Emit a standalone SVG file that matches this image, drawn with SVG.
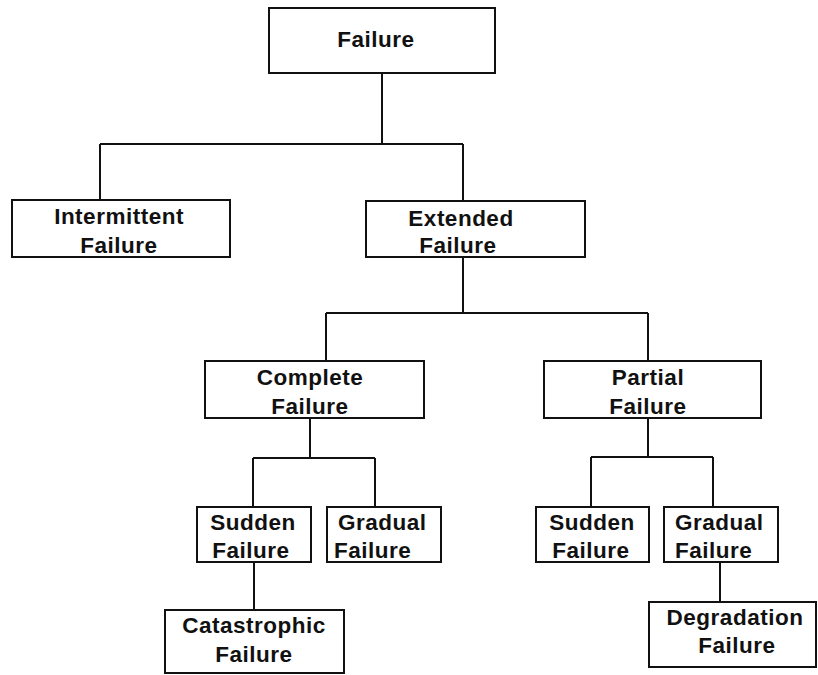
<svg xmlns="http://www.w3.org/2000/svg" width="818" height="675" viewBox="0 0 818 675">
<style>
.box{fill:#fff;stroke:#111;stroke-width:2}
.ln{fill:none;stroke:#111;stroke-width:2}
text{font-family:"Liberation Sans",Arial,sans-serif;font-weight:bold;font-size:22.5px;letter-spacing:0.5px;fill:#111;text-anchor:middle}
.st{text-anchor:start}
</style>
<rect width="818" height="675" fill="#fff"/>
<g id="connectors">
<path class="ln" d="M382 73V144M100 144H463M100 144V200M463 144V201"/>
<path class="ln" d="M463 257V313M326 313H648M326 313V361M648 313V361"/>
<path class="ln" d="M310 418V458M253 458H375M253 458V507M375 458V507"/>
<path class="ln" d="M648 418V457M591 457H713M591 457V507M713 457V507"/>
<path class="ln" d="M254 562V610M720 562V602"/>
</g>
<g id="failure"><rect class="box" x="269" y="8" width="226" height="65"/><text x="376" y="47">Failure</text></g>
<g id="intermittent"><rect class="box" x="12" y="200" width="218" height="57"/><text x="119" y="224">Intermittent</text><text x="119" y="253">Failure</text></g>
<g id="extended"><rect class="box" x="366" y="201" width="219" height="56"/><text x="461" y="226">Extended</text><text x="458" y="253">Failure</text></g>
<g id="complete"><rect class="box" x="205" y="361" width="219" height="57"/><text x="310" y="385">Complete</text><text x="310" y="414">Failure</text></g>
<g id="partial"><rect class="box" x="544" y="361" width="217" height="57"/><text x="648" y="385">Partial</text><text x="648" y="414">Failure</text></g>
<g id="sudden1"><rect class="box" x="197" y="507" width="114" height="55"/><text x="253" y="530">Sudden</text><text x="251" y="558">Failure</text></g>
<g id="gradual1"><rect class="box" x="327" y="507" width="114" height="55"/><text class="st" x="338" y="530">Gradual</text><text class="st" x="334" y="558">Failure</text></g>
<g id="sudden2"><rect class="box" x="536" y="507" width="113" height="55"/><text x="592" y="530">Sudden</text><text x="591" y="558">Failure</text></g>
<g id="gradual2"><rect class="box" x="664" y="507" width="114" height="55"/><text class="st" x="675" y="530">Gradual</text><text class="st" x="675" y="558">Failure</text></g>
<g id="catastrophic"><rect class="box" x="165" y="610" width="179" height="63"/><text x="254" y="633">Catastrophic</text><text x="254" y="662">Failure</text></g>
<g id="degradation"><rect class="box" x="649" y="602" width="167" height="65"/><text x="735" y="625">Degradation</text><text x="737" y="653">Failure</text></g>
</svg>
